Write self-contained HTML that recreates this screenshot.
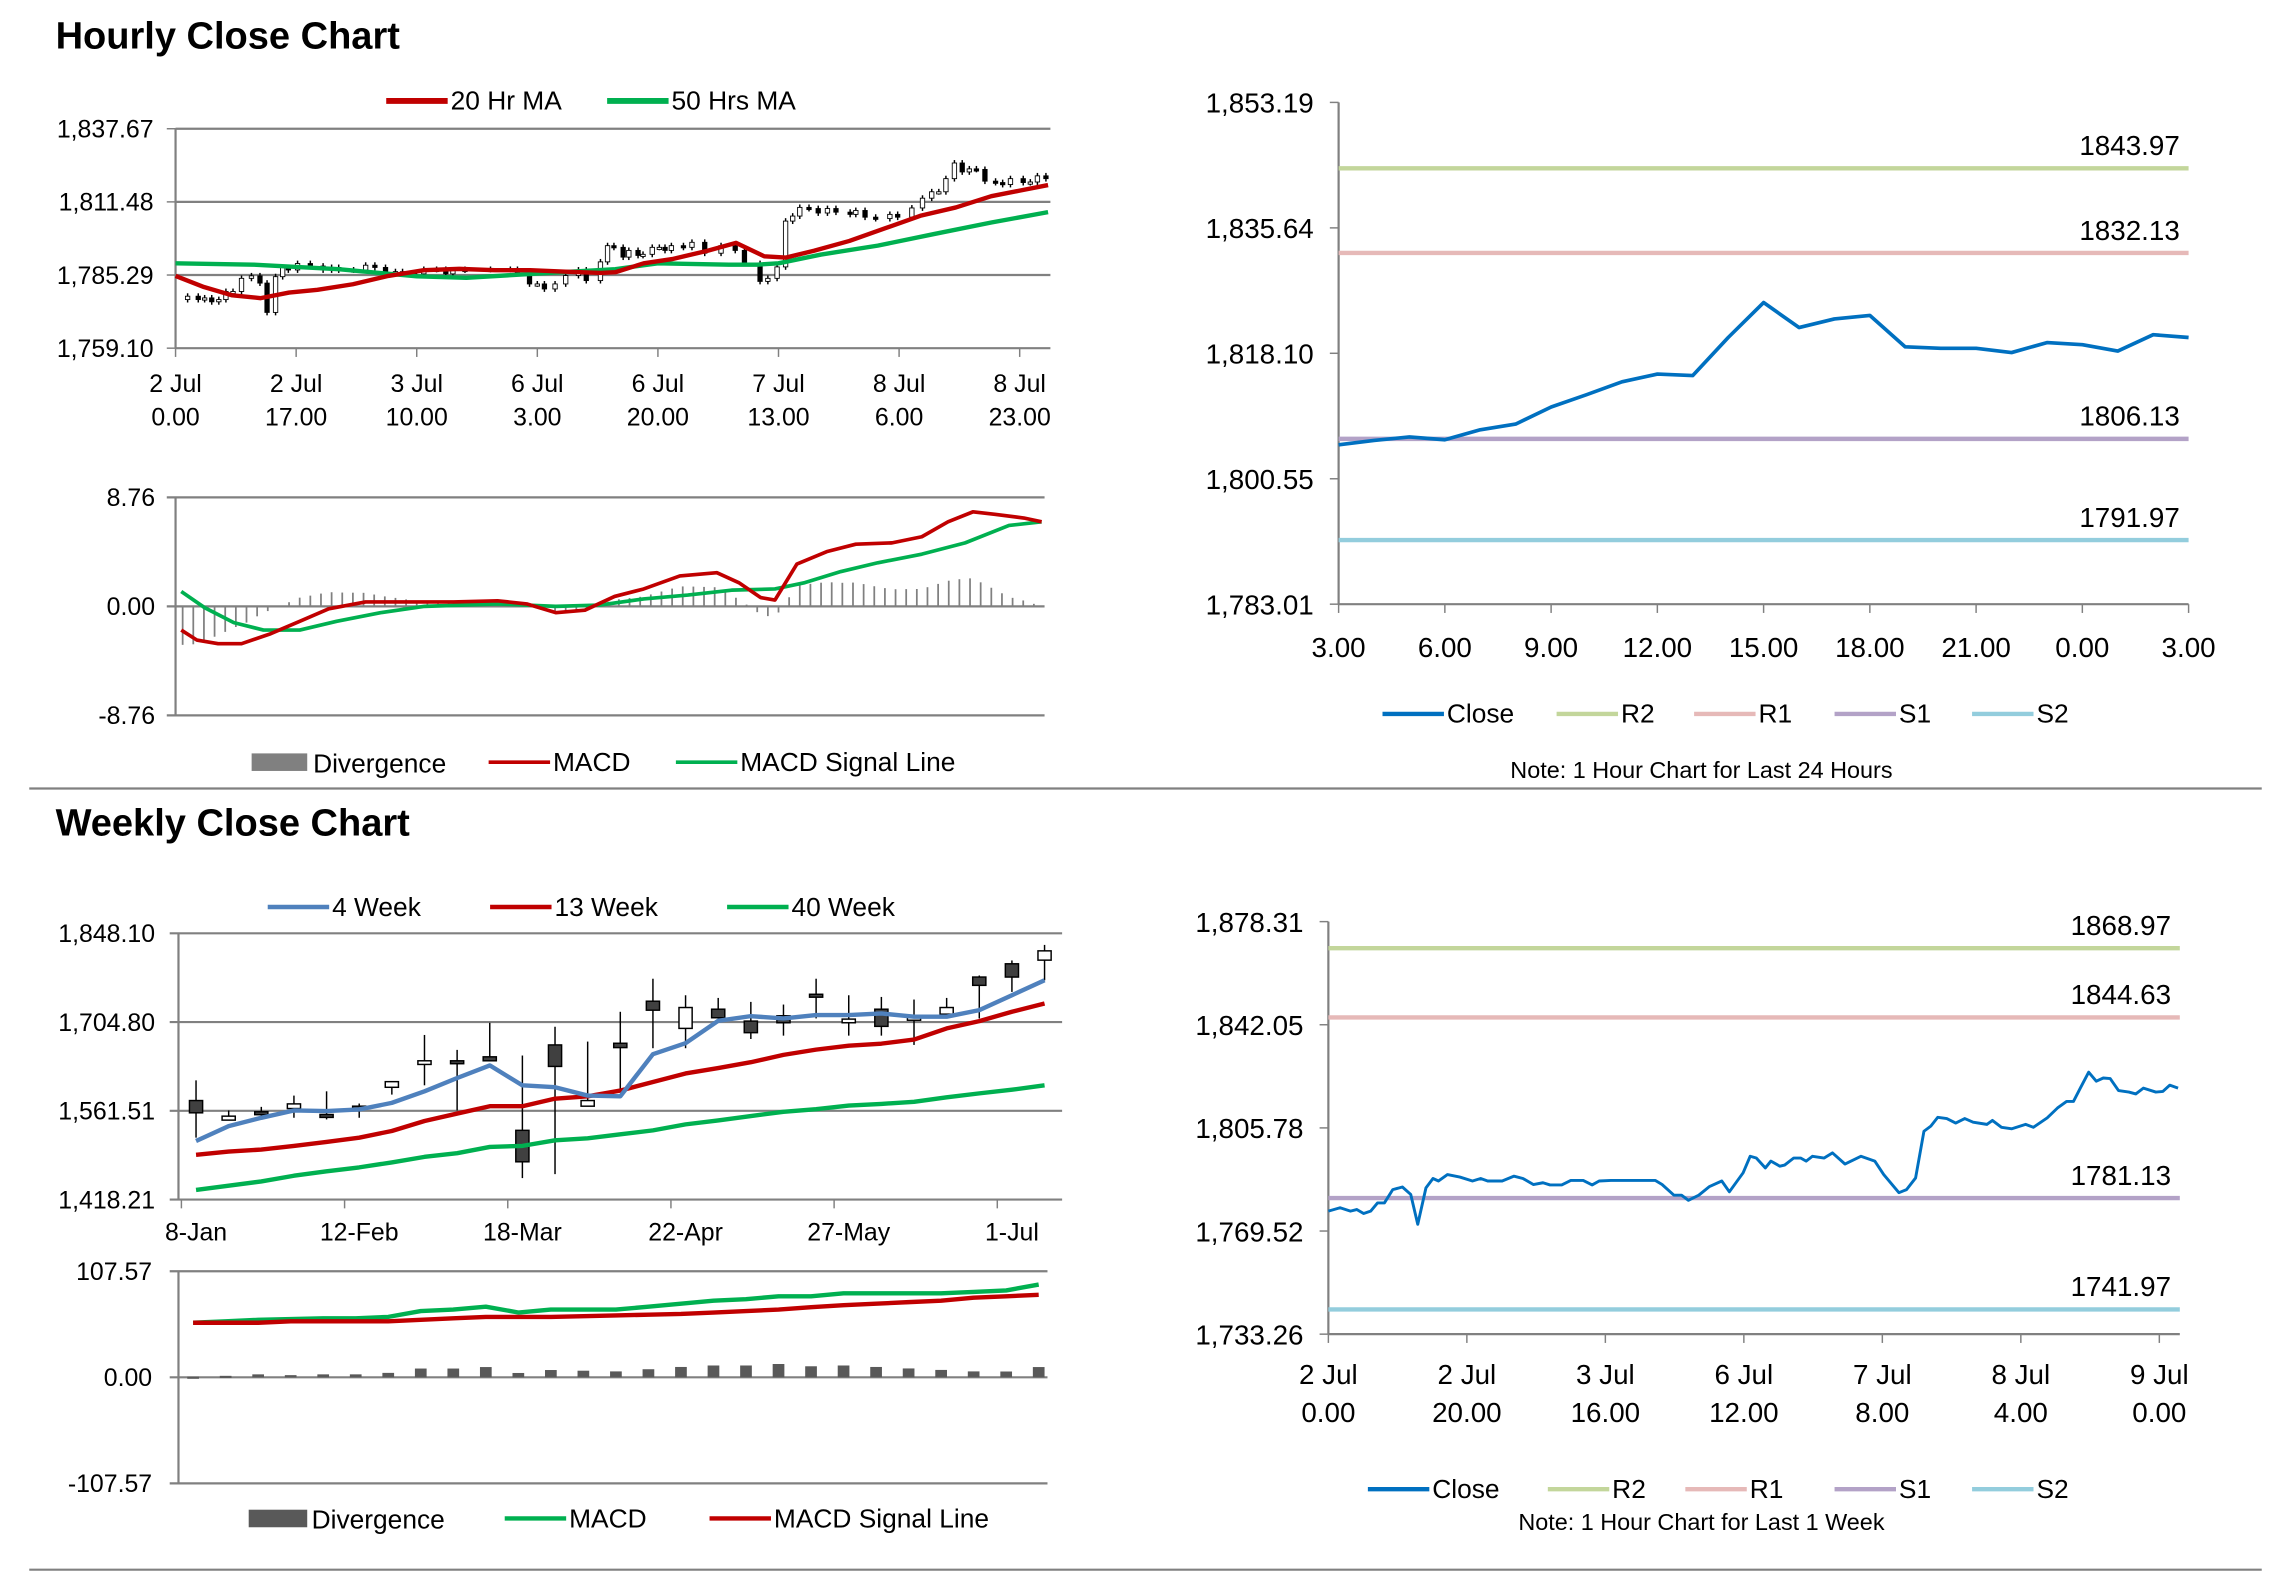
<!DOCTYPE html>
<html><head><meta charset="utf-8">
<style>
html,body{margin:0;padding:0;background:#fff;}
svg{display:block;}
text{font-family:"Liberation Sans",Arial,sans-serif;fill:#000;}
</style></head>
<body>
<svg id="s" width="2291" height="1577" viewBox="0 0 1566 1078" preserveAspectRatio="none" xmlns="http://www.w3.org/2000/svg">
<text x="38" y="33" font-size="26" font-weight="bold">Hourly Close Chart</text>
<text x="38" y="571" font-size="26" font-weight="bold">Weekly Close Chart</text>
<line x1="20" y1="539" x2="1546" y2="539" stroke="#808080" stroke-width="1.5"/>
<line x1="20" y1="1073" x2="1546" y2="1073" stroke="#808080" stroke-width="1.5"/>
</svg>
<script>
// ---------- data ----------
const weekHours=[0,1.7,3.2,4.1,5.1,6.1,7.1,8.1,9.3,10.7,11.9,12.9,14.1,15.1,15.9,17.2,19.0,20.8,22.0,23.0,25.1,26.8,28.1,29.6,31.0,32.0,33.7,35.0,36.8,38.1,39.1,40.8,44.4,47.2,48.2,49.9,51.0,52.0,53.5,55.0,56.8,57.9,59.9,60.9,61.8,63.1,63.9,65.2,65.9,67.2,68.2,69.0,69.9,71.6,72.8,74.6,76.9,78.9,80.2,82.4,83.5,84.8,86.0,87.0,88.0,89.3,90.6,91.9,93.1,95.1,95.9,97.2,98.7,100.7,101.8,103.8,105.3,106.6,107.6,108.6,109.8,110.9,111.9,112.9,114.1,115.6,116.6,117.7,119.5,120.5,121.5,122.7];
const weekClose=[1776.5,1777.7,1776.5,1777.1,1775.7,1776.5,1779.4,1779.4,1784.1,1785.0,1782.4,1771.9,1784.7,1788.0,1787.1,1789.4,1788.5,1787.1,1788.0,1787.1,1787.1,1788.8,1788.0,1785.9,1786.5,1785.7,1785.7,1787.3,1787.3,1785.7,1787.1,1787.3,1787.3,1787.3,1785.9,1782.1,1782.1,1780.3,1782.1,1785.1,1787.1,1783.3,1790.0,1795.8,1795.2,1791.7,1794.1,1792.3,1792.7,1795.2,1795.2,1794.1,1795.8,1795.2,1797.0,1793.1,1795.8,1794.1,1789.4,1783.0,1784.1,1788.2,1804.6,1806.4,1809.5,1809.1,1807.5,1809.1,1807.8,1807.0,1808.4,1806.0,1805.5,1807.0,1806.0,1809.3,1812.8,1815.1,1815.1,1819.8,1825.4,1822.2,1823.3,1823.1,1818.9,1818.4,1817.7,1819.8,1818.4,1818.6,1820.8,1819.8];
const ma20Hours=[0,4,8,12,16,20,25,30,35,40,45,50,55,60,62,66,70,75,79,83,86,90,95,100,105,110,115,119,123];
const ma20=[1785,1781,1778,1777,1779,1780,1782,1785,1787,1787.5,1787,1787,1786.5,1786,1786.3,1789.5,1791,1794,1796.8,1792,1791.5,1794,1797.5,1802,1806.5,1809.5,1813.5,1815.5,1817.5];
const ma50Hours=[0,11,23,34,41,51,62,68,78,82,85,91,99,107,115,123];
const ma50=[1789.5,1789,1787.4,1784.8,1784.3,1785.8,1787.4,1789.5,1789,1789,1789.5,1792.6,1795.8,1800,1804.1,1807.8];
const hourTickLabels=[["2 Jul","0.00"],["2 Jul","17.00"],["3 Jul","10.00"],["6 Jul","3.00"],["6 Jul","20.00"],["7 Jul","13.00"],["8 Jul","6.00"],["8 Jul","23.00"]];
const hourTicks=[0,17,34,51,68,85,102,119];
const p1Ticks=[1759.10,1785.29,1811.48,1837.67];

const macdHours=[0.8,3,6,9.3,13.4,17.5,21.6,26.8,33,39.2,45.4,49.5,53.6,57.7,61.9,66,71.1,76.3,79.4,82.5,84.5,87.6,91.8,95.9,101,105.2,108.9,112.4,115.5,119.6,122.1];
const macdVals=[-1.9,-2.7,-3.0,-3.0,-2.2,-1.2,-0.2,0.35,0.35,0.35,0.45,0.2,-0.5,-0.3,0.8,1.4,2.45,2.7,1.9,0.7,0.5,3.4,4.4,5.0,5.1,5.6,6.8,7.6,7.4,7.1,6.8];
const sigHours=[0.8,4.1,8.2,12.4,17.5,22.7,28.9,35.1,45.4,53.6,59.8,66,72.2,78.4,84.5,88.7,93.8,99,105.2,111.3,117.5,122.1];
const sigVals=[1.2,-0.1,-1.3,-1.9,-1.9,-1.2,-0.5,0,0.2,0,0.1,0.6,0.9,1.3,1.4,1.9,2.8,3.5,4.2,5.1,6.5,6.8];
const macdTicks=[-8.76,0,8.76];

const dayHours=[0,1,2,3,4,5,6,7,8,9,10,11,12,13,14,15,16,17,18,19,20,21,22,23,24];
const dayClose=[1805.3,1805.9,1806.4,1806.0,1807.4,1808.2,1810.6,1812.3,1814.1,1815.2,1815.0,1820.3,1825.2,1821.7,1822.9,1823.4,1819.0,1818.8,1818.8,1818.2,1819.6,1819.3,1818.4,1820.7,1820.3];
const dayTickLabels=["3.00","6.00","9.00","12.00","15.00","18.00","21.00","0.00","3.00"];
const dayTicks=[1783.01,1800.55,1818.10,1835.64,1853.19];
const dayLevels=[1843.97,1832.13,1806.13,1791.97];
const wkLevels=[1868.97,1844.63,1781.13,1741.97];
const wkTickVals=[1733.26,1769.52,1805.78,1842.05,1878.31];
const wkTickLabels=[["2 Jul","0.00"],["2 Jul","20.00"],["3 Jul","16.00"],["6 Jul","12.00"],["7 Jul","8.00"],["8 Jul","4.00"],["9 Jul","0.00"]];

const wOpen=[1578.1,1546.5,1560,1565.2,1555.6,1569,1599.5,1636.4,1642.3,1648.7,1530,1667.9,1569.0,1670.6,1738.5,1694.6,1725.6,1706.4,1715,1749.7,1703.7,1725.6,1711.0,1717.6,1777.5,1798.9,1804.8];
const wClose=[1558.3,1552.9,1555.6,1572.7,1552.4,1566.3,1608.6,1642.3,1638.5,1642.3,1479.2,1633.2,1578.1,1663.6,1724.0,1728.3,1711.8,1687.7,1703.7,1746.5,1709.6,1697.9,1712.5,1728.3,1764.1,1777.5,1819.8];
const wHigh=[1610.7,1562,1567.9,1586.1,1593.0,1573.3,1608.6,1684.0,1659.9,1703.7,1650.8,1697.3,1673.3,1721.4,1774.8,1748.1,1743.8,1737.4,1733.1,1774.8,1748.1,1745.4,1741.2,1743.8,1780,1804.3,1829.4];
const wLow=[1518.2,1546.5,1554,1550.3,1547.6,1550.3,1587.7,1602.7,1562,1642.3,1452.9,1459.3,1569.0,1593,1662.6,1662.6,1710.7,1677.5,1682.9,1710.7,1682.9,1682.9,1667.9,1710.7,1710.7,1753.5,1772.2];
const ma4=[1512.8,1536.9,1550.3,1562.0,1561.0,1563.6,1574.3,1593.0,1614.4,1634.8,1602.7,1599.5,1586.1,1585.0,1652.9,1670.6,1706.9,1714.4,1710.7,1716.0,1716.0,1718.7,1713.4,1713.4,1724.0,1748.1,1772.2];
const ma13=[1490.4,1495.7,1498.9,1504.8,1511.3,1518.2,1528.9,1545.0,1557.2,1569.0,1569.0,1581.3,1585.0,1594.1,1608.0,1621.9,1630.5,1640.1,1651.9,1660.4,1666.8,1670.0,1676.5,1694.6,1706.4,1721.4,1734.8];
const ma40=[1433.7,1440.7,1447.6,1456.7,1463.7,1470.1,1478.1,1487.2,1493.1,1503.2,1504.8,1513.9,1517.1,1523.5,1529.9,1539.6,1546.0,1553.0,1559.9,1564.2,1570.1,1572.7,1575.9,1583.4,1589.8,1595.7,1602.7];
const wTickVals=[1418.21,1561.51,1704.80,1848.10];
const wDateLabels=["8-Jan","12-Feb","18-Mar","22-Apr","27-May","1-Jul"];
const wDateWeeks=[0,5,10,15,20,25];
const wMacd=[55.3,56.8,58.3,59.0,59.8,59.8,61.3,67.2,68.7,71.7,65.7,68.7,68.7,68.7,71.7,74.7,77.7,79.2,82.2,82.2,85.2,85.2,85.2,85.2,86.7,88.1,94.1];
const wSignal=[55.3,55.3,55.3,56.8,56.8,56.8,56.8,58.3,59.8,61.3,61.3,61.3,62.0,62.7,63.5,64.2,65.7,67.2,68.7,71.0,73.2,74.7,76.2,77.7,80.7,82.2,83.7];
const wMacdTicks=[-107.57,0,107.57];

// ---------- helpers ----------
const NS="http://www.w3.org/2000/svg";
const svg=document.getElementById('s');
function el(tag,attrs,parent){const e=document.createElementNS(NS,tag);for(const k in attrs)e.setAttribute(k,attrs[k]);(parent||svg).appendChild(e);return e;}
function txt(x,y,s,size,anchor,parent){const t=el('text',{x:x,y:y,'font-size':size,'text-anchor':anchor||'start'},parent);t.textContent=s;return t;}
function lin(d0,d1,r0,r1){return v=>r0+(v-d0)/(d1-d0)*(r1-r0);}
function fmt(v){return v.toLocaleString('en-US',{minimumFractionDigits:2,maximumFractionDigits:2});}
function interp(xs,ys,x){if(x<=xs[0])return ys[0];for(let i=1;i<xs.length;i++){if(x<=xs[i]){const t=(x-xs[i-1])/(xs[i]-xs[i-1]);return ys[i-1]+t*(ys[i]-ys[i-1]);}}return ys[ys.length-1];}
function poly(xs,ys,X,Y,color,w,g){return el('polyline',{points:xs.map((x,i)=>X(x).toFixed(1)+','+Y(ys[i]).toFixed(1)).join(' '),fill:'none',stroke:color,'stroke-width':w,'stroke-linejoin':'round'},g);}
function legendLine(g,x,y,color,label,w){el('line',{x1:x,y1:y,x2:x+42,y2:y,stroke:color,'stroke-width':w||3},g);txt(x+44,y+6,label,18,'start',g);}
const RED='#c00000',GREEN='#00b050',BLUE='#0070c0',GRID='#808080';

// ---------- chart 1 ----------
{
const g=el('g',{});


const X=lin(0,119,120,697),Y=lin(1759.10,1837.67,238,88);
p1Ticks.forEach(v=>{el('line',{x1:120,y1:Y(v),x2:718,y2:Y(v),stroke:GRID,'stroke-width':1.5},g);el('line',{x1:114,y1:Y(v),x2:120,y2:Y(v),stroke:GRID},g);txt(105,Y(v)+6,fmt(v),17,'end',g);});
el('line',{x1:120,y1:88,x2:120,y2:238,stroke:GRID,'stroke-width':1.5},g);
hourTicks.forEach((h,i)=>{el('line',{x1:X(h),y1:238,x2:X(h),y2:244,stroke:GRID},g);txt(X(h),268,hourTickLabels[i][0],17,'middle',g);txt(X(h),291,hourTickLabels[i][1],17,'middle',g);});
const cg=el('g',{},g);


for(let i=1;i<weekClose.length;i++){const o=weekClose[i-1],c=weekClose[i];const y1=Y(Math.max(o,c)),y2=Y(Math.min(o,c));
el('line',{x1:X(weekHours[i]),y1:y1-2,x2:X(weekHours[i]),y2:y2+2,stroke:'#000','stroke-width':1},cg);
el('rect',{x:X(weekHours[i])-1.5,y:y1,width:3,height:Math.max(1.5,y2-y1),fill:c>=o?'#fff':'#000',stroke:'#000','stroke-width':0.6},cg);}
poly(ma50Hours,ma50,X,Y,GREEN,3,g);
poly(ma20Hours,ma20,X,Y,RED,3,g);
const lg=el('g',{},g);


legendLine(lg,264,69,RED,'20 Hr MA',4);legendLine(lg,415,69,GREEN,'50 Hrs MA',4);
}
// ---------- chart 2 ----------
{
const g=el('g',{});


const X=lin(0,119,120,697),Y=lin(-8.76,8.76,489,340);
macdTicks.forEach(v=>{el('line',{x1:114,y1:Y(v),x2:714,y2:Y(v),stroke:GRID,'stroke-width':1.5},g);txt(106,Y(v)+6,v.toFixed(2),17,'end',g);});
el('line',{x1:120,y1:340,x2:120,y2:489,stroke:GRID,'stroke-width':1.5},g);
for(let h=1;h<=122;h+=1.5){const d=interp(macdHours,macdVals,h)-interp(sigHours,sigVals,h);
const b=el('line',{x1:X(h),y1:Y(0),x2:X(h),y2:Y(d),stroke:'#808080','stroke-width':1.2},g);

}
poly(sigHours,sigVals,X,Y,GREEN,2.5,g);
poly(macdHours,macdVals,X,Y,RED,2.5,g);
const lg=el('g',{},g);


el('rect',{x:172,y:515,width:38,height:12,fill:'#808080'},lg);txt(214,528,'Divergence',18,'start',lg);
legendLine(lg,334,521,RED,'MACD',2.5);legendLine(lg,462,521,GREEN,'MACD Signal Line',2.5);
}
// ---------- level charts ----------
function levelChart(name,x0,x1,y0,y1,tickVals,dom0,dom1,levels,labelOffset){
const g=el('g',{});


const Y=lin(dom0,dom1,y1,y0);
el('line',{x1:x0,y1:y0,x2:x0,y2:y1,stroke:GRID,'stroke-width':1.5},g);
el('line',{x1:x0,y1:y1,x2:x1,y2:y1,stroke:GRID,'stroke-width':1.5},g);
tickVals.forEach(v=>{el('line',{x1:x0-6,y1:Y(v),x2:x0,y2:Y(v),stroke:GRID},g);txt(x0-17,Y(v)+7,fmt(v),19,'end',g);});
const cols=['#c3d69b','#e6b9b8','#b3a2c7','#93cddd'];
levels.forEach((v,i)=>{const l=el('line',{x1:x0,y1:Y(v),x2:x1,y2:Y(v),stroke:cols[i],'stroke-width':3},g);


txt(x1-6+labelOffset,Y(v)-9,v.toFixed(2),19,'end',g);});
return {g,Y,cols};
}
{
const c=levelChart('day-close-chart',915,1496,70,413,dayTicks,1783.01,1853.19,dayLevels,0);
const X=lin(0,24,915,1496);
dayTickLabels.forEach((s,i)=>{const x=X(i*3);el('line',{x1:x,y1:413,x2:x,y2:419,stroke:GRID},c.g);txt(x,449,s,19,'middle',c.g);});
poly(dayHours,dayClose,X,c.Y,BLUE,2.5,c.g);
const lg=el('g',{},c.g);


legendLine(lg,945,488,BLUE,'Close',3);legendLine(lg,1064,488,c.cols[0],'R2',3);legendLine(lg,1158,488,c.cols[1],'R1',3);legendLine(lg,1254,488,c.cols[2],'S1',3);legendLine(lg,1348,488,c.cols[3],'S2',3);
txt(1163,532,'Note: 1 Hour Chart for Last 24 Hours',16,'middle',c.g);
}
{
const c=levelChart('week-close-chart',908,1490,630,912,wkTickVals,1733.26,1878.31,wkLevels,0);
const X=lin(0,120,908,1476);
wkTickLabels.forEach((s,i)=>{const x=X(i*20);el('line',{x1:x,y1:912,x2:x,y2:918,stroke:GRID},c.g);txt(x,946,s[0],19,'middle',c.g);txt(x,972,s[1],19,'middle',c.g);});
poly(weekHours,weekClose,X,c.Y,BLUE,2,c.g);
const lg=el('g',{},c.g);


legendLine(lg,935,1018,BLUE,'Close',3);legendLine(lg,1058,1018,c.cols[0],'R2',3);legendLine(lg,1152,1018,c.cols[1],'R1',3);legendLine(lg,1254,1018,c.cols[2],'S1',3);legendLine(lg,1348,1018,c.cols[3],'S2',3);
txt(1163,1046,'Note: 1 Hour Chart for Last 1 Week',16,'middle',c.g);
}
// ---------- chart 4 ----------
{
const g=el('g',{});


const X=lin(0,26,134,714),Y=lin(1418.21,1848.10,820,638);
wTickVals.forEach(v=>{el('line',{x1:116,y1:Y(v),x2:726,y2:Y(v),stroke:GRID,'stroke-width':1.5},g);txt(106,Y(v)+6,fmt(v),17,'end',g);});
el('line',{x1:122,y1:638,x2:122,y2:820,stroke:GRID,'stroke-width':1.5},g);
wDateWeeks.forEach((w,i)=>{const tx=X(w)-10;el('line',{x1:tx,y1:820,x2:tx,y2:826,stroke:GRID},g);txt(X(w),848,wDateLabels[i],17,'middle',g);});
const cg=el('g',{},g);


wOpen.forEach((o,i)=>{const c=wClose[i];const x=X(i);
el('line',{x1:x,y1:Y(wHigh[i]),x2:x,y2:Y(wLow[i]),stroke:'#000','stroke-width':1},cg);
const t=Y(Math.max(o,c)),b=Y(Math.min(o,c));
el('rect',{x:x-4.5,y:t,width:9,height:Math.max(2,b-t),fill:c>=o?'#fff':'#404040',stroke:'#000','stroke-width':1},cg);});
poly(wOpen.map((_,i)=>i),ma40,X,Y,GREEN,3,g);
poly(wOpen.map((_,i)=>i),ma13,X,Y,RED,3,g);
poly(wOpen.map((_,i)=>i),ma4,X,Y,'#4f81bd',3,g);
const lg=el('g',{},g);


legendLine(lg,183,620,'#4f81bd','4 Week',3);legendLine(lg,335,620,RED,'13 Week',3);legendLine(lg,497,620,GREEN,'40 Week',3);
}
// ---------- chart 5 ----------
{
const g=el('g',{});


const X=lin(0,26,132,710),Y=lin(-107.57,107.57,1014,869);
wMacdTicks.forEach(v=>{el('line',{x1:116,y1:Y(v),x2:716,y2:Y(v),stroke:GRID,'stroke-width':1.5},g);txt(104,Y(v)+6,v.toFixed(2),17,'end',g);});
el('line',{x1:122,y1:869,x2:122,y2:1014,stroke:GRID,'stroke-width':1.5},g);
wMacd.forEach((m,i)=>{const d=m-wSignal[i];const y=Y(Math.max(d,0.7));
const b=el('rect',{x:X(i)-4,y:y,width:8,height:Math.max(1.5,Y(0)-y),fill:'#595959'},g);

});
poly(wMacd.map((_,i)=>i),wMacd,X,Y,GREEN,3,g);
poly(wMacd.map((_,i)=>i),wSignal,X,Y,RED,3,g);
const lg=el('g',{},g);


el('rect',{x:170,y:1032,width:40,height:12,fill:'#595959'},lg);txt(213,1045,'Divergence',18,'start',lg);
legendLine(lg,345,1038,GREEN,'MACD',3);legendLine(lg,485,1038,RED,'MACD Signal Line',3);
}
</script>
</body></html>
